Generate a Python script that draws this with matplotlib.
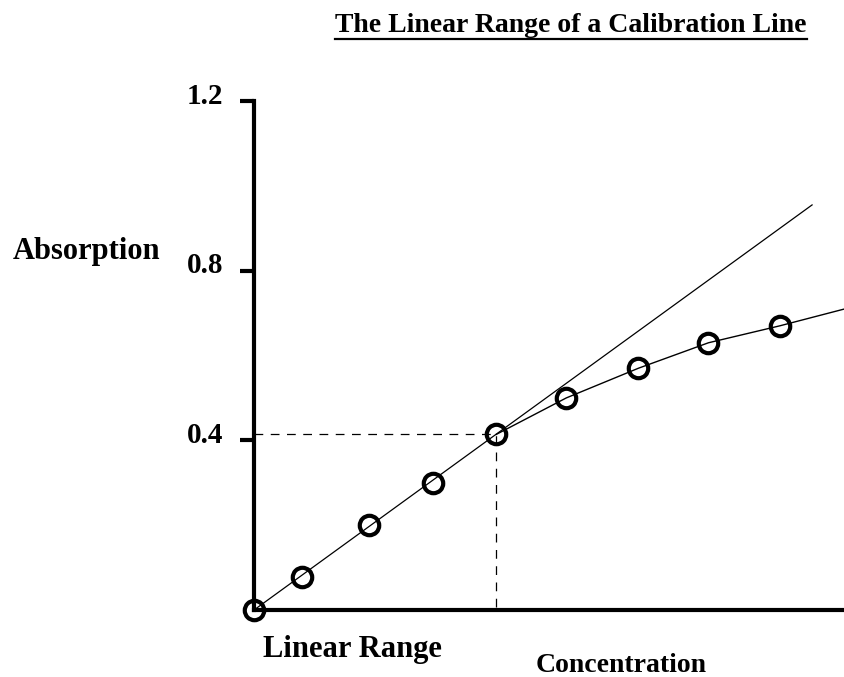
import matplotlib
matplotlib.use('Agg')
import matplotlib.pyplot as plt
import matplotlib.transforms as mtransforms
from matplotlib.lines import Line2D

plt.rcParams['font.family'] = 'Liberation Serif'
plt.rcParams['font.weight'] = 'bold'

# 测量点 (浓度, 吸光度)
conc = [0.0, 0.69, 1.64, 2.56, 3.46, 4.46, 5.49, 6.49, 7.51]
absorb = [0.0, 0.078, 0.20, 0.30, 0.414, 0.50, 0.57, 0.63, 0.67]

# 理想直线的两端
line_x = [0.0, 7.97]
line_y = [0.0, 0.955]

# 弯曲部分: 从第 5 个点开始, 一直延伸到右边缘
curve_x = conc[4:] + [8.44]
curve_y = absorb[4:] + [0.71]

# 线性范围的界限
limit_x = conc[4]
limit_y = absorb[4]

yticks = [0.4, 0.8, 1.2]
yticklabels = ['0.4', '0.8', '1.2']

fig = plt.figure(figsize=(8.45, 6.77), dpi=100)
ax = fig.add_axes([254 / 845, 67 / 677, 591 / 845, 509 / 677])

ax.plot(line_x, line_y, color='black', lw=0.9)
ax.plot(curve_x, curve_y, color='black', lw=1.0)
ax.plot([0, limit_x, limit_x], [limit_y, limit_y, 0], color='black', lw=0.9,
        dashes=(7, 6))
ax.plot(conc, absorb, 'o', ms=14, mfc='none', mec='black', mew=3, clip_on=False)

ax.set_xlim(0, 8.44)
ax.set_ylim(0, 1.2)
for s in ['top', 'right']:
    ax.spines[s].set_visible(False)
for s in ['left', 'bottom']:
    ax.spines[s].set_linewidth(3)
ax.set_xticks([])
ax.set_yticks(yticks)
ax.set_yticklabels(yticklabels, fontsize=21, fontweight='bold', va='center')
ax.tick_params(axis='y', length=10, width=3, pad=12)
# 刻度标签稍微往上挪一点
shift = mtransforms.ScaledTranslation(0, 5 / 100, fig.dpi_scale_trans)
for lbl in ax.get_yticklabels():
    lbl.set_transform(lbl.get_transform() + shift)

fig.text(13 / 845, 1 - 259 / 677, 'Absorption', fontsize=22, fontweight='bold',
         ha='left', va='baseline')
fig.text(352 / 845, 1 - 657 / 677, 'Linear Range', fontsize=22, fontweight='bold',
         ha='center', va='baseline')
fig.text(621 / 845, 1 - 672 / 677, 'Concentration', fontsize=20, fontweight='bold',
         ha='center', va='baseline')

# 带下划线的标题
fig.text(571 / 845, 1 - 32 / 677, 'The Linear Range of a Calibration Line',
         fontsize=20, fontweight='bold', ha='center', va='baseline')
fig.lines.append(Line2D([335 / 845, 807 / 845], [1 - 39 / 677, 1 - 39 / 677],
                        transform=fig.transFigure, color='black', lw=1.6))

plt.savefig('out.png', dpi=100)
